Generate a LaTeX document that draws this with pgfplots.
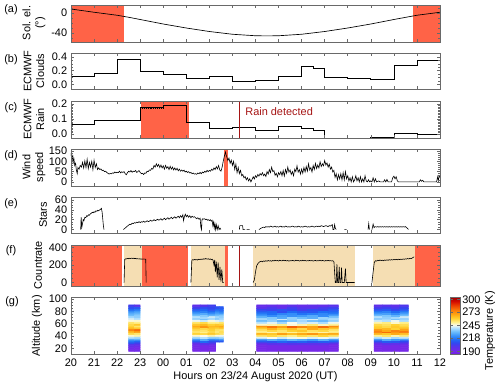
\documentclass[border=0pt]{standalone}
\usepackage{fontspec}
\setmainfont{Liberation Sans}
\usepackage{pgfplots}
\usepackage{pgfplotstable}
\pgfplotsset{compat=1.18}

\definecolor{sunred}{RGB}{255,99,71}
\definecolor{obs}{RGB}{245,222,179}
\definecolor{rainred}{RGB}{165,20,20}
\definecolor{frame}{RGB}{105,105,105}

% temperature blocks for panel (g): x = hour, y = altitude (km), t = K
\pgfplotstableread[row sep=\\]{x y t\\
22.62 17 190\\ 22.87 17 192\\ 22.62 20 192\\ 22.87 20 190\\ 22.62 23 195\\ 22.87 23 192\\
22.62 26 200\\ 22.87 26 198\\ 22.62 29 210\\ 22.87 29 205\\ 22.62 32 218\\ 22.87 32 215\\
22.62 35 228\\ 22.87 35 230\\ 22.62 38 240\\ 22.87 38 238\\ 22.62 41 248\\ 22.87 41 250\\
22.62 44 258\\ 22.87 44 255\\ 22.62 47 265\\ 22.87 47 270\\ 22.62 50 275\\ 22.87 50 280\\
22.62 53 265\\ 22.87 53 262\\ 22.62 56 260\\ 22.87 56 255\\ 22.62 59 258\\ 22.87 59 262\\
22.62 62 255\\ 22.87 62 252\\ 22.62 65 247\\ 22.87 65 248\\ 22.62 68 243\\ 22.87 68 240\\
22.62 71 238\\ 22.87 71 236\\ 22.62 74 232\\ 22.87 74 235\\ 22.62 77 228\\ 22.87 77 230\\
22.62 80 222\\ 22.87 80 225\\ 22.62 83 215\\ 22.87 83 218\\ 22.62 86 210\\ 22.87 86 212\\
22.62 89 205\\ 22.87 89 200\\
}\blockA

\pgfplotstableread[row sep=\\]{x y t\\
25.44 17 190\\ 25.77 17 190\\ 26.10 17 190\\
25.44 20 190\\ 25.77 20 190\\ 26.10 20 190\\
25.44 23 190\\ 25.77 23 190\\ 26.10 23 190\\
25.44 26 192\\ 25.77 26 192\\ 26.10 26 194\\
25.44 29 198\\ 25.77 29 200\\ 26.10 29 202\\
25.44 32 212\\ 25.77 32 215\\ 26.10 32 210\\
25.44 35 225\\ 25.77 35 228\\ 26.10 35 222\\
25.44 38 238\\ 25.77 38 240\\ 26.10 38 236\\
25.44 41 248\\ 25.77 41 246\\ 26.10 41 250\\
25.44 44 260\\ 25.77 44 258\\ 26.10 44 262\\
25.44 47 255\\ 25.77 47 252\\ 26.10 47 258\\
25.44 50 258\\ 25.77 50 255\\ 26.10 50 260\\
25.44 53 262\\ 25.77 53 258\\ 26.10 53 262\\
25.44 56 268\\ 25.77 56 272\\ 26.10 56 265\\
25.44 59 262\\ 25.77 59 265\\ 26.10 59 260\\
25.44 62 255\\ 25.77 62 258\\ 26.10 62 252\\
25.44 65 245\\ 25.77 65 242\\ 26.10 65 247\\
25.44 68 236\\ 25.77 68 233\\ 26.10 68 238\\
25.44 71 240\\ 25.77 71 238\\ 26.10 71 242\\
25.44 74 232\\ 25.77 74 235\\ 26.10 74 230\\
25.44 77 225\\ 25.77 77 228\\ 26.10 77 222\\
25.44 80 218\\ 25.77 80 220\\ 26.10 80 215\\
25.44 83 212\\ 25.77 83 215\\ 26.10 83 210\\
25.44 86 205\\ 25.77 86 210\\ 26.10 86 208\\
25.44 89 198\\ 25.77 89 200\\ 26.10 89 205\\
}\blockB

\pgfplotstableread[row sep=\\]{x y t\\
26.35 32 210\\ 26.52 32 212\\ 26.35 35 224\\ 26.52 35 226\\ 26.35 38 236\\ 26.52 38 238\\
26.35 41 247\\ 26.52 41 245\\ 26.35 44 258\\ 26.52 44 256\\ 26.35 47 254\\ 26.52 47 257\\
26.35 50 256\\ 26.52 50 255\\ 26.35 53 260\\ 26.52 53 262\\ 26.35 56 266\\ 26.52 56 268\\
26.35 59 262\\ 26.52 59 260\\ 26.35 62 252\\ 26.52 62 255\\ 26.35 65 244\\ 26.52 65 242\\
26.35 68 235\\ 26.52 68 238\\ 26.35 71 238\\ 26.52 71 236\\ 26.35 74 232\\ 26.52 74 234\\
26.35 77 226\\ 26.52 77 224\\ 26.35 80 220\\ 26.52 80 218\\ 26.35 83 215\\ 26.52 83 214\\
26.35 86 210\\ 26.52 86 212\\
}\blockBb

\pgfplotstableread[row sep=\\]{x y t\\
28.27 17 190\\ 28.71 17 190\\ 29.16 17 190\\ 29.60 17 190\\ 30.04 17 190\\ 30.48 17 190\\ 30.93 17 190\\ 31.37 17 190\\
28.27 20 190\\ 28.71 20 190\\ 29.16 20 190\\ 29.60 20 190\\ 30.04 20 190\\ 30.48 20 190\\ 30.93 20 190\\ 31.37 20 190\\
28.27 23 190\\ 28.71 23 190\\ 29.16 23 190\\ 29.60 23 190\\ 30.04 23 190\\ 30.48 23 190\\ 30.93 23 190\\ 31.37 23 190\\
28.27 26 192\\ 28.71 26 191\\ 29.16 26 193\\ 29.60 26 192\\ 30.04 26 191\\ 30.48 26 192\\ 30.93 26 193\\ 31.37 26 191\\
28.27 29 199\\ 28.71 29 200\\ 29.16 29 198\\ 29.60 29 201\\ 30.04 29 200\\ 30.48 29 199\\ 30.93 29 198\\ 31.37 29 200\\
28.27 32 212\\ 28.71 32 210\\ 29.16 32 214\\ 29.60 32 211\\ 30.04 32 213\\ 30.48 32 210\\ 30.93 32 212\\ 31.37 32 214\\
28.27 35 226\\ 28.71 35 228\\ 29.16 35 225\\ 29.60 35 230\\ 30.04 35 227\\ 30.48 35 224\\ 30.93 35 229\\ 31.37 35 226\\
28.27 38 244\\ 28.71 38 246\\ 29.16 38 242\\ 29.60 38 245\\ 30.04 38 247\\ 30.48 38 243\\ 30.93 38 245\\ 31.37 38 244\\
28.27 41 256\\ 28.71 41 258\\ 29.16 41 255\\ 29.60 41 252\\ 30.04 41 257\\ 30.48 41 255\\ 30.93 41 259\\ 31.37 41 256\\
28.27 44 266\\ 28.71 44 262\\ 29.16 44 270\\ 29.60 44 264\\ 30.04 44 268\\ 30.48 44 272\\ 30.93 44 265\\ 31.37 44 268\\
28.27 47 252\\ 28.71 47 250\\ 29.16 47 254\\ 29.60 47 251\\ 30.04 47 255\\ 30.48 47 253\\ 30.93 47 250\\ 31.37 47 252\\
28.27 50 256\\ 28.71 50 258\\ 29.16 50 255\\ 29.60 50 260\\ 30.04 50 262\\ 30.48 50 256\\ 30.93 50 258\\ 31.37 50 255\\
28.27 53 262\\ 28.71 53 266\\ 29.16 53 260\\ 29.60 53 264\\ 30.04 53 258\\ 30.48 53 268\\ 30.93 53 262\\ 31.37 53 263\\
28.27 56 272\\ 28.71 56 278\\ 29.16 56 270\\ 29.60 56 282\\ 30.04 56 275\\ 30.48 56 270\\ 30.93 56 280\\ 31.37 56 274\\
28.27 59 248\\ 28.71 59 250\\ 29.16 59 252\\ 29.60 59 247\\ 30.04 59 250\\ 30.48 59 254\\ 30.93 59 249\\ 31.37 59 251\\
28.27 62 240\\ 28.71 62 244\\ 29.16 62 238\\ 29.60 62 246\\ 30.04 62 241\\ 30.48 62 243\\ 30.93 62 239\\ 31.37 62 245\\
28.27 65 232\\ 28.71 65 236\\ 29.16 65 230\\ 29.60 65 234\\ 30.04 65 238\\ 30.48 65 233\\ 30.93 65 231\\ 31.37 65 236\\
28.27 68 238\\ 28.71 68 235\\ 29.16 68 242\\ 29.60 68 236\\ 30.04 68 240\\ 30.48 68 243\\ 30.93 68 236\\ 31.37 68 239\\
28.27 71 230\\ 28.71 71 234\\ 29.16 71 228\\ 29.60 71 236\\ 30.04 71 232\\ 30.48 71 229\\ 30.93 71 237\\ 31.37 71 233\\
28.27 74 224\\ 28.71 74 222\\ 29.16 74 226\\ 29.60 74 223\\ 30.04 74 225\\ 30.48 74 228\\ 30.93 74 222\\ 31.37 74 226\\
28.27 77 218\\ 28.71 77 216\\ 29.16 77 220\\ 29.60 77 222\\ 30.04 77 217\\ 30.48 77 219\\ 30.93 77 221\\ 31.37 77 218\\
28.27 80 212\\ 28.71 80 214\\ 29.16 80 209\\ 29.60 80 215\\ 30.04 80 212\\ 30.48 80 211\\ 30.93 80 216\\ 31.37 80 214\\
28.27 83 207\\ 28.71 83 206\\ 29.16 83 210\\ 29.60 83 208\\ 30.04 83 204\\ 30.48 83 209\\ 30.93 83 207\\ 31.37 83 211\\
28.27 86 200\\ 28.71 86 203\\ 29.16 86 199\\ 29.60 86 205\\ 30.04 86 201\\ 30.48 86 200\\ 30.93 86 204\\ 31.37 86 206\\
28.27 89 195\\ 28.71 89 196\\ 29.16 89 194\\ 29.60 89 198\\ 30.04 89 195\\ 30.48 89 197\\ 30.93 89 196\\ 31.37 89 200\\
}\blockC

\pgfplotstableread[row sep=\\]{x y t\\
33.33 17 190\\ 33.70 17 190\\ 34.07 17 190\\ 34.44 17 190\\
33.33 20 190\\ 33.70 20 190\\ 34.07 20 190\\ 34.44 20 190\\
33.33 23 190\\ 33.70 23 190\\ 34.07 23 190\\ 34.44 23 190\\
33.33 26 192\\ 33.70 26 192\\ 34.07 26 191\\ 34.44 26 192\\
33.33 29 198\\ 33.70 29 199\\ 34.07 29 197\\ 34.44 29 200\\
33.33 32 210\\ 33.70 32 212\\ 34.07 32 211\\ 34.44 32 209\\
33.33 35 225\\ 33.70 35 228\\ 34.07 35 224\\ 34.44 35 226\\
33.33 38 240\\ 33.70 38 242\\ 34.07 38 238\\ 34.44 38 241\\
33.33 41 252\\ 33.70 41 255\\ 34.07 41 250\\ 34.44 41 254\\
33.33 44 266\\ 33.70 44 262\\ 34.07 44 268\\ 34.44 44 264\\
33.33 47 276\\ 33.70 47 280\\ 34.07 47 272\\ 34.44 47 278\\
33.33 50 272\\ 33.70 50 268\\ 34.07 50 275\\ 34.44 50 270\\
33.33 53 262\\ 33.70 53 265\\ 34.07 53 260\\ 34.44 53 264\\
33.33 56 260\\ 33.70 56 258\\ 34.07 56 262\\ 34.44 56 259\\
33.33 59 258\\ 33.70 59 256\\ 34.07 59 260\\ 34.44 59 257\\
33.33 62 250\\ 33.70 62 253\\ 34.07 62 248\\ 34.44 62 252\\
33.33 65 242\\ 33.70 65 240\\ 34.07 65 245\\ 34.44 65 239\\
33.33 68 235\\ 33.70 68 238\\ 34.07 68 233\\ 34.44 68 236\\
33.33 71 240\\ 33.70 71 236\\ 34.07 71 238\\ 34.44 71 242\\
33.33 74 231\\ 33.70 74 234\\ 34.07 74 230\\ 34.44 74 232\\
33.33 77 224\\ 33.70 77 226\\ 34.07 77 222\\ 34.44 77 225\\
33.33 80 217\\ 33.70 80 220\\ 34.07 80 215\\ 34.44 80 218\\
33.33 83 210\\ 33.70 83 212\\ 34.07 83 208\\ 34.44 83 211\\
33.33 86 204\\ 33.70 86 206\\ 34.07 86 203\\ 34.44 86 207\\
33.33 89 198\\ 33.70 89 200\\ 34.07 89 197\\ 34.44 89 202\\
}\blockD

\pgfplotsset{
  colormap={temp}{rgb255(0pt)=(110,25,225) rgb255(7pt)=(118,40,232) rgb255(17pt)=(90,50,235)
    rgb255(25pt)=(50,70,240) rgb255(33pt)=(30,110,245) rgb255(41pt)=(60,150,250)
    rgb255(49pt)=(110,190,252) rgb255(57pt)=(180,225,255) rgb255(63pt)=(250,250,235)
    rgb255(69pt)=(255,240,140) rgb255(77pt)=(255,210,50) rgb255(85pt)=(255,170,20)
    rgb255(95pt)=(250,120,10) rgb255(105pt)=(235,60,0) rgb255(113pt)=(210,10,0) rgb255(122pt)=(160,0,0)},
  panel/.style={
    scale only axis, width=276.75pt, anchor=north west,
    xmin=20, xmax=36, xtick={20,21,...,36}, xticklabels={},
    axis on top, clip=true,
    tick align=inside, major tick length=2.6pt, minor tick length=1.4pt,
    axis line style={frame, line width=0.6pt},
    tick style={frame, line width=0.45pt},
    /pgf/number format/assume math mode=true,
    unbounded coords=jump,
  },
  dec1/.style={yticklabel style={/pgf/number format/.cd, fixed, fixed zerofill, precision=1}},
}

\begin{document}
\fontsize{8.2}{9.6}\selectfont
\begin{tikzpicture}
\path[use as bounding box] (0,0) rectangle (375pt,-290.25pt);

% (a) solar elevation
\begin{axis}[panel, at={(53.25pt,-3.75pt)}, height=27.75pt,
  ymin=-58, ymax=16, ytick={-40,0}, minor ytick={-50,-30,-20,-10,10}]
\addplot[draw=none, fill=sunred] coordinates {(20,-99)(22.28,-99)(22.28,99)(20,99)};
\addplot[draw=none, fill=sunred] coordinates {(34.83,-99)(36,-99)(36,99)(34.83,99)};
\addplot[black, line width=0.5pt] coordinates {
  (20,8)(21,1.5)(22,-4.5)(22.5,-8.5)(23,-13)(24,-22)(25,-30)(26,-37)(27,-42.5)(28,-45.5)
  (28.5,-45.8)(29,-45.5)(30,-42.5)(31,-37)(32,-30)(33,-22)(34,-13)(35,-4.5)(36,1.5)};
\end{axis}

% (b) ECMWF clouds
\begin{axis}[panel, dec1, at={(53.25pt,-39.75pt)}, height=27pt,
  ymin=-0.07, ymax=0.46, ytick={0,0.2,0.4}, minor y tick num=3]
\addplot[black, line width=0.5pt, const plot] coordinates {
  (20,0.119)(21,0.168)(22,0.363)(23,0.183)(24,0.148)(25,0.094)(26,0.123)(27,0.044)
  (28,0.059)(29,0.119)(30,0.257)(30.5,0.232)(31,0.109)(32,0.084)(33,0.074)(34,0.281)
  (35,0.346)(36,0.346)};
\end{axis}

% (c) ECMWF rain
\begin{axis}[panel, dec1, at={(53.25pt,-75.75pt)}, height=27.75pt,
  ymin=-0.025, ymax=0.22, ytick={0,0.1,0.2}, minor y tick num=9]
\addplot[draw=none, fill=sunred] coordinates {(23.05,-1)(25.1,-1)(25.1,1)(23.05,1)};
\addplot[black, line width=0.4pt, densely dotted] coordinates {(23,0.171)(24,0.171)};
\addplot[black, line width=0.5pt, const plot] coordinates {
  (20,0.064)(21,0.093)(23,0.178)(24,0.189)(25,0.078)(26,0.038)(27,0.044)(28,0.024)
  (29,0.053)(30,0.040)(30.5,0.024)(31,-0.03)(33,-0.018)(34,0.007)(35,-0.002)(36,-0.002)};
\addplot[rainred, line width=0.9pt] coordinates {(27.3,-1)(27.3,1)};
\node[anchor=west, text=rainred, inner sep=0pt] at (axis cs:27.55,0.148) {Rain detected};
\end{axis}

% (d) wind speed
\begin{axis}[panel, at={(53.25pt,-111.75pt)}, height=27.75pt,
  ymin=-20, ymax=160, ytick={0,50,100,150}, minor y tick num=4]
\addplot[draw=none, fill=sunred] coordinates {(26.63,-999)(26.82,-999)(26.82,999)(26.63,999)};
\addplot[black, line width=0.45pt] coordinates {
(20.00,125)(20.02,150)(20.05,105)(20.08,130)(20.10,95)(20.13,110)(20.16,80)(20.20,90)(20.23,60)(20.27,40)
(20.30,70)(20.35,62)(20.40,80)(20.45,72)(20.50,95)(20.55,68)(20.60,102)(20.65,70)(20.70,110)(20.75,65)
(20.80,95)(20.85,72)(20.90,100)(20.95,60)(21.00,105)(21.05,70)(21.10,88)(21.15,60)(21.20,68)(21.25,60)
(21.30,63)(21.35,55)(21.40,57)(21.45,50)(21.50,52)(21.55,46)(21.60,42)(21.65,38)(21.70,41)(21.75,39)
(21.80,44)(21.85,42)(21.90,48)(21.95,44)(22.00,47)(22.05,45)(22.10,52)(22.15,44)(22.20,49)(22.25,46)
(22.30,50)(22.35,40)(22.40,35)(22.45,45)(22.50,52)(22.55,48)(22.60,55)(22.65,47)(22.70,52)(22.75,50)
(22.80,56)(22.85,46)(22.90,50)(22.95,55)(23.00,46)(23.05,40)(23.10,42)(23.15,36)(23.20,44)(23.25,42)
(23.30,52)(23.35,50)(23.40,58)(23.45,56)(23.50,66)(23.55,62)(23.60,80)(23.65,72)(23.70,88)(23.75,75)
(23.80,85)(23.85,70)(23.90,82)(23.95,68)(24.00,78)(24.05,62)(24.10,80)(24.15,66)(24.20,74)(24.25,60)
(24.30,76)(24.35,62)(24.40,72)(24.45,58)(24.50,68)(24.55,58)(24.60,66)(24.65,54)(24.70,62)(24.75,52)
(24.80,58)(24.85,52)(24.90,57)(24.95,48)(25.00,52)(25.05,46)(25.10,50)(25.15,43)(25.20,46)(25.25,40)
(25.30,43)(25.35,38)(25.40,40)(25.45,37)(25.50,43)(25.55,40)(25.60,46)(25.65,40)(25.70,48)(25.75,44)
(25.80,52)(25.85,47)(25.90,56)(25.95,50)(26.00,56)(26.05,52)(26.10,62)(26.15,56)(26.20,68)(26.25,60)
(26.30,74)(26.35,63)(26.40,80)(26.45,58)(26.50,52)(26.55,70)(26.60,100)(26.65,125)(26.70,145)(26.73,130)
(26.76,120)(26.80,104)(26.85,116)(26.90,90)(26.95,106)(27.00,80)(27.05,100)(27.10,60)(27.15,86)(27.20,45)
(27.25,70)(27.30,40)(27.35,56)(27.40,30)(27.45,36)(27.50,20)(27.55,26)(27.60,10)(27.65,20)(27.70,5)
(27.75,15)(27.80,0)(27.85,12)(27.90,25)(27.95,14)(28.00,30)(28.05,22)(28.10,36)(28.15,28)(28.20,40)
(28.25,33)(28.30,45)(28.35,30)(28.40,38)(28.45,26)(28.50,50)(28.55,38)(28.60,60)(28.65,45)(28.70,72)
(28.75,50)(28.80,55)(28.85,32)(28.90,42)(28.95,25)(29.00,45)(29.05,35)(29.10,50)(29.15,30)(29.20,55)
(29.25,28)(29.30,60)(29.35,42)(29.40,72)(29.45,48)(29.50,58)(29.55,36)(29.60,50)(29.65,30)(29.70,62)
(29.75,50)(29.80,78)(29.85,48)(29.90,60)(29.95,38)(30.00,62)(30.05,42)(30.10,70)(30.15,48)(30.20,75)
(30.25,52)(30.30,88)(30.35,58)(30.40,70)(30.45,48)(30.50,80)(30.55,60)(30.60,90)(30.65,65)(30.70,82)
(30.75,68)(30.80,98)(30.85,75)(30.90,88)(30.95,78)(31.00,104)(31.05,82)(31.10,92)(31.15,72)(31.20,86)
(31.25,62)(31.30,72)(31.35,48)(31.40,56)(31.45,22)(31.50,40)(31.55,10)(31.60,35)(31.65,15)(31.70,40)
(31.75,10)(31.80,45)(31.85,10)(31.90,50)(31.95,15)(32.00,30)(32.05,5)(32.10,20)(32.15,0)(32.20,25)
(32.25,0)(32.30,10)(32.35,30)(32.40,5)(32.45,20)(32.50,0)(32.55,25)(32.60,0)(32.65,15)(32.70,0)
(32.75,30)(32.80,5)(32.85,0)(32.90,10)(32.95,0)(33.00,5)(33.05,0)(33.10,20)(33.15,0)(33.20,15)
(33.25,0)(33.35,5)(33.40,0)(33.55,0)(33.60,10)(33.65,0)(33.70,12)(33.75,0)(33.90,0)(33.95,20)
(34.00,28)(34.05,15)(34.10,25)(34.15,5)(34.20,0)(35.10,0)(35.15,10)(35.20,3)(35.25,8)(35.30,0)
(35.85,0)(35.90,25)(35.93,5)(35.96,30)(36.00,20)};
\end{axis}

% (e) stars
\begin{axis}[panel, at={(53.25pt,-147.75pt)}, height=27pt,
  ymin=-7, ymax=66, ytick={0,20,40,60}, minor y tick num=3]
\addplot[black, line width=0.45pt] coordinates {
(20.42,0)(20.44,25)(20.47,5)(20.50,12)(20.53,20)(20.56,18)(20.60,25)(20.64,24)(20.68,28)(20.72,27)
(20.76,30)(20.80,29)(20.84,32)(20.88,33)(20.92,35)(20.96,34)(21.00,36)(21.04,35)(21.08,38)(21.12,37)
(21.16,39)(21.20,38)(21.24,40)(21.28,41)(21.32,43)(21.35,35)(21.40,10)(21.43,0)(21.45,nan)
(22.27,0)(22.35,3)(22.42,6)(22.50,9)(22.55,11)(22.60,10)(22.65,13)(22.70,12)(22.75,14)(22.80,13)
(22.85,15)(22.90,14)(22.95,16)(23.00,14)(23.05,16)(23.10,15)(23.15,17)(23.20,15)(23.25,16)(23.30,18)
(23.35,16)(23.40,17)(23.45,19)(23.50,17)(23.55,18)(23.60,20)(23.65,18)(23.70,19)(23.75,21)(23.80,19)
(23.85,20)(23.90,22)(23.95,19)(24.00,21)(24.05,23)(24.10,20)(24.15,22)(24.20,24)(24.25,21)(24.30,23)
(24.35,25)(24.40,22)(24.45,24)(24.50,26)(24.55,23)(24.60,25)(24.65,27)(24.70,24)(24.75,28)(24.80,25)
(24.85,30)(24.88,18)(24.92,27)(24.96,31)(25.00,26)(25.05,29)(25.10,25)(25.15,28)(25.20,24)(25.25,27)
(25.30,25)(25.35,26)(25.40,24)(25.45,22)(25.50,24)(25.55,21)(25.60,23)(25.63,5)(25.66,0)(25.68,20)
(25.72,22)(25.76,21)(25.80,22)(25.84,20)(25.88,21)(25.92,19)(25.96,20)(26.00,18)(26.04,20)(26.08,17)
(26.12,19)(26.15,8)(26.18,15)(26.21,3)(26.24,12)(26.27,0)(26.30,10)(26.34,0)(26.38,8)(26.42,0)
(26.46,3)(26.50,0)(26.52,nan)
(27.30,0)(27.32,8)(27.44,8)(27.46,0)(27.55,0)(27.58,nan)(27.62,0)(27.75,0)(27.78,nan)
(28.15,0)(28.25,3)(28.35,5)(28.40,4)(28.45,6)(28.50,5)(28.55,6)(28.60,5)(28.65,7)(28.70,6)
(28.75,5)(28.80,6)(28.85,7)(28.90,5)(28.95,6)(29.00,5)(29.05,6)(29.10,7)(29.15,5)(29.20,6)
(29.25,5)(29.30,7)(29.35,6)(29.40,5)(29.45,6)(29.50,5)(29.55,6)(29.60,7)(29.65,6)(29.70,5)
(29.75,6)(29.80,5)(29.85,7)(29.90,6)(29.95,5)(30.00,6)(30.05,5)(30.10,6)(30.15,7)(30.20,6)
(30.25,5)(30.30,6)(30.35,5)(30.40,6)(30.45,7)(30.50,6)(30.55,5)(30.60,6)(30.65,7)(30.70,6)
(30.75,7)(30.80,6)(30.85,8)(30.90,7)(30.95,6)(31.00,7)(31.05,8)(31.10,7)(31.15,6)(31.20,8)
(31.25,7)(31.30,9)(31.33,10)(31.36,0)(31.40,0)(31.43,10)(31.46,3)(31.50,0)(31.52,nan)
(31.85,0)(31.95,0)(31.97,nan)
(32.88,0)(32.91,12)(32.94,0)(32.96,nan)
(33.05,0)(33.10,11)(33.14,4)(33.18,6)(33.25,5)(33.30,6)(33.35,5)(33.40,6)(33.45,5)(33.50,6)
(33.55,5)(33.60,6)(33.65,5)(33.70,6)(33.75,5)(33.80,6)(33.85,5)(33.90,6)(33.95,5)(34.00,6)
(34.05,5)(34.10,6)(34.15,5)(34.20,6)(34.25,5)(34.30,6)(34.35,5)(34.40,6)(34.45,5)(34.50,6)
(34.55,4)(34.60,2)(34.63,0)};
\end{axis}

% (f) countrate
\begin{axis}[panel, at={(53.25pt,-183.75pt)}, height=30.75pt,
  ymin=-40, ymax=430, ytick={0,200,400}, minor y tick num=3]
\addplot[draw=none, fill=sunred] coordinates {(20,-999)(22.23,-999)(22.23,999)(20,999)};
\addplot[draw=none, fill=obs] coordinates {(22.3,-999)(23.06,-999)(23.06,999)(22.3,999)};
\addplot[draw=none, fill=sunred] coordinates {(23.06,-999)(25.09,-999)(25.09,999)(23.06,999)};
\addplot[draw=none, fill=obs] coordinates {(25.2,-999)(26.68,-999)(26.68,999)(25.2,999)};
\addplot[draw=none, fill=sunred] coordinates {(26.68,-999)(26.82,-999)(26.82,999)(26.68,999)};
\addplot[draw=none, fill=obs] coordinates {(27.9,-999)(32.31,-999)(32.31,999)(27.9,999)};
\addplot[draw=none, fill=obs] coordinates {(33.08,-999)(34.91,-999)(34.91,999)(33.08,999)};
\addplot[draw=none, fill=sunred] coordinates {(34.91,-999)(36,-999)(36,999)(34.91,999)};
\addplot[rainred, line width=0.9pt] coordinates {(27.3,-999)(27.3,999)};
\addplot[black, line width=0.45pt] coordinates {
(22.30,0)(22.33,265)(22.37,272)(22.40,270)(22.44,276)(22.48,273)(22.52,278)(22.56,274)(22.60,277)
(22.64,280)(22.68,275)(22.72,279)(22.76,274)(22.80,276)(22.84,271)(22.88,274)(22.92,270)(22.96,272)
(23.00,268)(23.04,271)(23.08,267)(23.12,270)(23.16,268)(23.20,269)(23.24,267)(23.26,0)(23.28,nan)
(25.20,0)(25.24,255)(25.28,262)(25.32,258)(25.36,265)(25.40,260)(25.44,263)(25.48,258)(25.52,266)
(25.56,262)(25.60,268)(25.64,264)(25.68,270)(25.72,265)(25.76,272)(25.80,268)(25.84,275)(25.88,270)
(25.92,268)(25.96,272)(26.00,265)(26.04,270)(26.08,262)(26.12,268)(26.16,255)(26.20,200)(26.23,260)
(26.26,120)(26.30,240)(26.34,60)(26.38,230)(26.42,30)(26.46,180)(26.50,10)(26.54,150)(26.58,0)
(26.62,0)(26.64,nan)
(27.90,0)(27.95,30)(28.00,120)(28.05,190)(28.10,215)(28.15,230)(28.20,240)(28.25,245)(28.30,238)
(28.35,248)(28.40,242)(28.45,250)(28.50,244)(28.55,252)(28.60,246)(28.65,250)(28.70,244)(28.75,253)
(28.80,247)(28.85,255)(28.90,249)(28.95,253)(29.00,246)(29.05,255)(29.10,250)(29.15,248)(29.20,256)
(29.25,250)(29.30,253)(29.35,247)(29.40,252)(29.45,245)(29.50,251)(29.55,248)(29.60,254)(29.65,250)
(29.70,247)(29.75,256)(29.80,250)(29.85,253)(29.90,246)(29.95,252)(30.00,248)(30.05,255)(30.10,249)
(30.15,253)(30.20,247)(30.25,251)(30.30,249)(30.35,254)(30.40,248)(30.45,252)(30.50,246)(30.55,250)
(30.60,253)(30.65,247)(30.70,251)(30.75,249)(30.80,255)(30.85,248)(30.90,253)(30.95,250)(31.00,246)
(31.05,252)(31.10,248)(31.15,254)(31.20,249)(31.25,251)(31.30,247)(31.35,250)(31.40,240)(31.43,120)
(31.46,0)(31.50,0)(31.53,210)(31.56,0)(31.60,0)(31.63,180)(31.66,0)(31.70,0)(31.73,170)(31.76,0)
(31.85,0)(31.90,160)(31.93,0)(32.30,0)(32.32,nan)
(33.05,0)(33.10,120)(33.15,230)(33.20,250)(33.25,245)(33.30,255)(33.35,250)(33.40,258)(33.45,252)
(33.50,256)(33.55,250)(33.60,258)(33.65,254)(33.70,260)(33.75,255)(33.80,262)(33.85,257)(33.90,263)
(33.95,258)(34.00,265)(34.05,260)(34.10,266)(34.15,261)(34.20,267)(34.25,263)(34.30,268)(34.35,264)
(34.40,270)(34.45,266)(34.50,272)(34.55,268)(34.60,275)(34.65,270)(34.70,278)(34.75,274)(34.80,282)
(34.85,290)(34.88,295)};
\end{axis}

% (g) temperature
\begin{axis}[panel, at={(53.25pt,-222.75pt)}, height=43.3pt,
  ymin=10, ymax=103, ytick={20,40,60,80,100}, minor y tick num=3,
  xticklabels={20,21,22,23,00,01,02,03,04,05,06,07,08,09,10,11,12},
  xlabel={Hours on 23/24 August 2020 (UT)},
  xlabel style={yshift=2pt},
  colormap name=temp, point meta min=183, point meta max=305,
  colorbar,
  colorbar style={at={(parent axis.north east)}, anchor=north west, xshift=-1pt,
    width=7.5pt, ytick={190,218,245,273,300},
    axis line style={frame, line width=0.6pt}, tick style={frame},
    tick align=inside, major tick length=2pt,
    /pgf/number format/assume math mode=true,
    yticklabel style={inner xsep=1.5pt}}]
\addplot[matrix plot*, mesh/cols=2, point meta=explicit] table[meta=t] {\blockA};
\addplot[matrix plot*, mesh/cols=3, point meta=explicit] table[meta=t] {\blockB};
\addplot[matrix plot*, mesh/cols=2, point meta=explicit] table[meta=t] {\blockBb};
\addplot[matrix plot*, mesh/cols=8, point meta=explicit] table[meta=t] {\blockC};
\addplot[matrix plot*, mesh/cols=4, point meta=explicit] table[meta=t] {\blockD};
\end{axis}

% panel letters and y labels
\node at (8.25pt,-7.5pt) {(a)};
\node at (8.25pt,-45pt) {(b)};
\node at (8.25pt,-81pt) {(c)};
\node at (8.25pt,-116.5pt) {(d)};
\node at (8.25pt,-152.5pt) {(e)};
\node at (8.25pt,-188pt) {(f)};
\node at (9pt,-226pt) {(g)};
\node[rotate=90, align=center, inner sep=0pt] at (25.5pt,-17.25pt) {Sol. el.\\(°)};
\node[rotate=90, align=center, inner sep=0pt] at (25.5pt,-53.25pt) {ECMWF\\Clouds};
\node[rotate=90, align=center, inner sep=0pt] at (25.5pt,-89.5pt) {ECMWF\\Rain};
\node[rotate=90, align=center, inner sep=0pt] at (25.5pt,-125.5pt) {Wind\\speed};
\node[rotate=90, inner sep=0pt] at (32.25pt,-161.25pt) {Stars};
\node[rotate=90, inner sep=0pt] at (28.5pt,-198.75pt) {Countrate};
\node[rotate=90, inner sep=0pt] at (27.75pt,-244.5pt) {Altitude (km)};
\node[rotate=90, inner sep=0pt] at (367.5pt,-248pt) {Temperature (K)};
\end{tikzpicture}
\end{document}
